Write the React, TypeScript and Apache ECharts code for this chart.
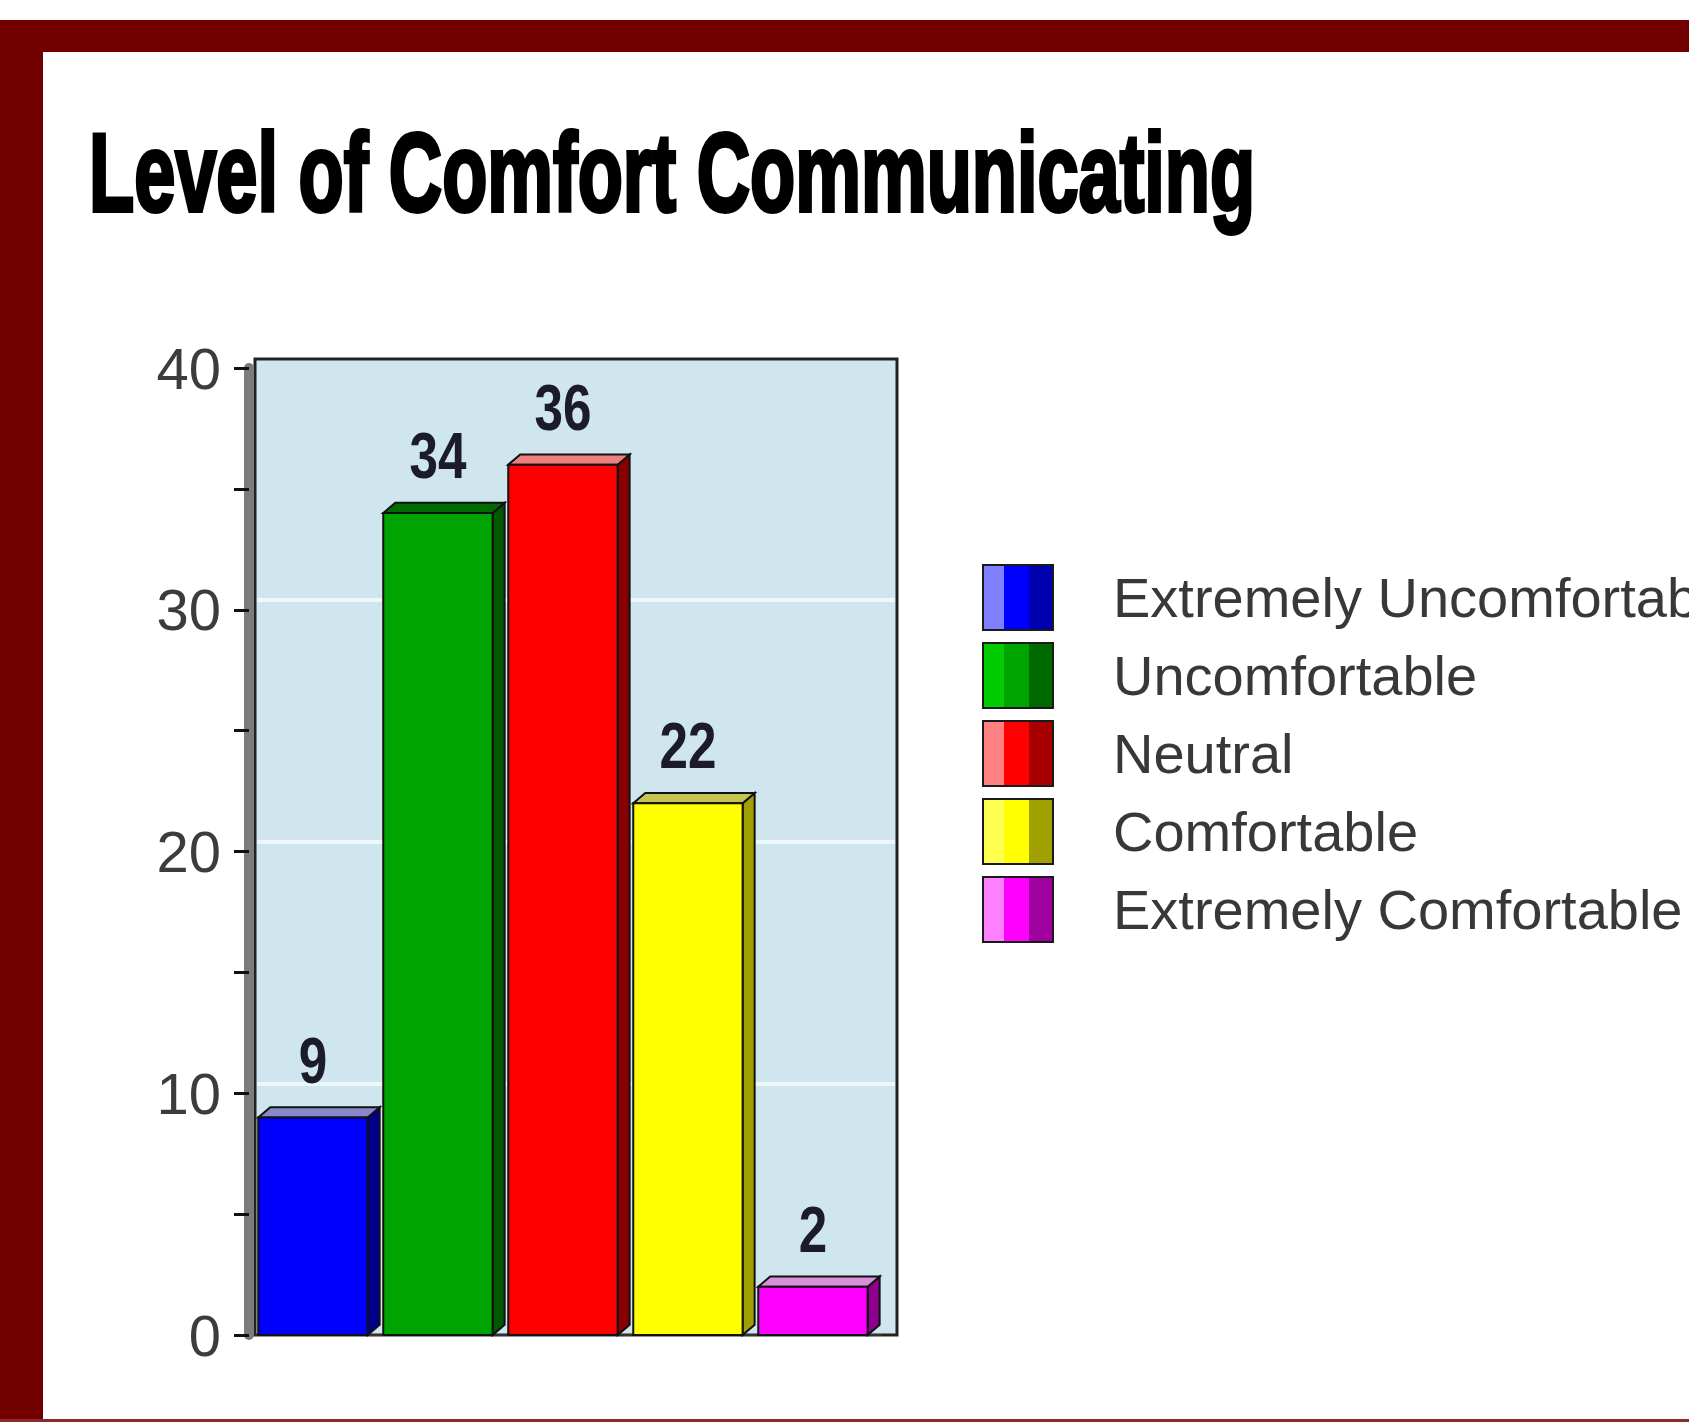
import React, { useEffect, useRef } from "react";
import * as echarts from "echarts";

const titleText = "Level of Comfort Communicating";
const categories = [
  "Extremely Uncomfortable",
  "Uncomfortable",
  "Neutral",
  "Comfortable",
  "Extremely Comfortable",
];
const values = [9, 34, 36, 22, 2];
const frontColors = ["#0000ff", "#00a400", "#ff0000", "#ffff00", "#ff00ff"];
const sideColors = ["#00008c", "#005800", "#880000", "#a0a000", "#8c008c"];
const topColors = ["#8888cc", "#006c00", "#ee8080", "#c4c450", "#d890d8"];
const lightColors = ["#8080ff", "#00cc00", "#ff8080", "#ffff50", "#ff80ff"];
const darkColors = ["#0000b0", "#006a00", "#a80000", "#a0a000", "#a000a0"];
const yMin = 0;
const yMax = 40;
const yTickStep = 5;
const yLabelStep = 10;

const SANS = "'Liberation Sans', Arial, sans-serif";

function legendGradient(i: number) {
  return {
    type: "linear",
    x: 0,
    y: 0,
    x2: 1,
    y2: 0,
    colorStops: [
      { offset: 0, color: lightColors[i] },
      { offset: 0.3, color: lightColors[i] },
      { offset: 0.3, color: frontColors[i] },
      { offset: 0.66, color: frontColors[i] },
      { offset: 0.66, color: darkColors[i] },
      { offset: 1, color: darkColors[i] },
    ],
  };
}

function makeRenderItem(i: number) {
  return (params: any, api: any) => {
    const idx = api.value(0);
    const val = api.value(1);
    const top = api.coord([idx, val]);
    const base = api.coord([idx, 0]);
    const band = api.size([1, 0])[0];
    const x0 = top[0] - band / 2 + band * 0.018;
    const w = band * 0.875;
    const dx = band * 0.096;
    const dy = dx * 0.85;
    const stroke = "#111";
    const lw = 2;
    return {
      type: "group",
      children: [
        {
          type: "polygon",
          shape: {
            points: [
              [x0 + w, top[1]],
              [x0 + w + dx, top[1] - dy],
              [x0 + w + dx, base[1] - dy],
              [x0 + w, base[1]],
            ],
          },
          style: { fill: sideColors[i], stroke, lineWidth: lw },
        },
        {
          type: "polygon",
          shape: {
            points: [
              [x0, top[1]],
              [x0 + dx, top[1] - dy],
              [x0 + w + dx, top[1] - dy],
              [x0 + w, top[1]],
            ],
          },
          style: { fill: topColors[i], stroke, lineWidth: lw },
        },
        {
          type: "rect",
          shape: { x: x0, y: top[1], width: w, height: base[1] - top[1] },
          style: { fill: frontColors[i], stroke, lineWidth: lw },
        },
        {
          type: "text",
          x: x0 + w / 2,
          y: top[1] - 57,
          scaleX: 0.8,
          style: {
            text: String(val),
            align: "center",
            verticalAlign: "middle",
            fontSize: 64,
            fontWeight: "bold",
            fontFamily: SANS,
            fill: "#1c1c28",
          },
        },
      ],
    };
  };
}

export default function App() {
  const ref = useRef<HTMLDivElement>(null);
  useEffect(() => {
    if (!ref.current) return;
    const chart = echarts.init(ref.current, null, { renderer: "svg" });
    const option: any = {
      animation: false,
      backgroundColor: "#ffffff",
      grid: [
        // back box
        {
          left: 255,
          top: 359,
          width: 642,
          height: 976,
          show: true,
          backgroundColor: "#cfe6ef",
          borderColor: "#222",
          borderWidth: 3,
        },
        // back wall gridlines
        { left: 257, top: 358, width: 638, height: 967 },
        // front plane
        { left: 256, top: 368, width: 625, height: 967 },
      ],
      xAxis: [
        { gridIndex: 0, type: "value", show: false, min: 0, max: 1 },
        { gridIndex: 1, type: "value", show: false, min: 0, max: 1 },
        {
          gridIndex: 2,
          type: "category",
          data: categories,
          axisLabel: { show: false },
          axisTick: { show: false },
          axisLine: { show: true, lineStyle: { color: "#333", width: 2 } },
        },
      ],
      yAxis: [
        { gridIndex: 0, type: "value", show: false, min: 0, max: 1 },
        {
          gridIndex: 1,
          type: "value",
          min: yMin,
          max: yMax,
          interval: yLabelStep,
          axisLine: { show: false },
          axisTick: { show: false },
          axisLabel: { show: false },
          splitLine: {
            show: true,
            lineStyle: {
              width: 4,
              color: [
                "rgba(0,0,0,0)",
                "#eef8fb",
                "#eef8fb",
                "#eef8fb",
                "rgba(0,0,0,0)",
              ],
            },
          },
        },
        {
          gridIndex: 2,
          type: "value",
          min: yMin,
          max: yMax,
          interval: yTickStep,
          offset: 7,
          axisLine: { show: true, lineStyle: { color: "#7c7c7c", width: 10 } },
          axisTick: {
            show: true,
            length: 15,
            lineStyle: { color: "#111", width: 3 },
          },
          axisLabel: {
            show: true,
            margin: 28,
            fontSize: 58,
            fontFamily: SANS,
            color: "#3c3c3c",
            formatter: (v: number) => (v % yLabelStep === 0 ? String(v) : ""),
          },
          splitLine: { show: false },
        },
      ],
      legend: {
        orient: "vertical",
        left: 977,
        top: 559,
        itemWidth: 70,
        itemHeight: 65,
        itemGap: 11,
        icon: "rect",
        selectedMode: false,
        data: categories.map((c, i) => ({
          name: c,
          itemStyle: {
            color: legendGradient(i),
            borderColor: "#1a1a1a",
            borderWidth: 2,
          },
        })),
        formatter: (n: string) => `{t|${n}}`,
        textStyle: {
          rich: {
            t: {
              fontSize: 56,
              fontFamily: SANS,
              color: "#383838",
              padding: [0, 0, 0, 55],
            },
          },
        },
      },
      series: categories.map((c, i) => ({
        type: "custom",
        name: c,
        xAxisIndex: 2,
        yAxisIndex: 2,
        itemStyle: { color: frontColors[i] },
        data: [[i, values[i]]],
        renderItem: makeRenderItem(i),
        z: 5,
      })),
      graphic: [
        {
          type: "rect",
          shape: { x: 0, y: 20, width: 1689, height: 32 },
          style: { fill: "#720000" },
          z: 100,
        },
        {
          type: "rect",
          shape: { x: 0, y: 20, width: 43, height: 1402 },
          style: { fill: "#720000" },
          z: 100,
        },
        {
          type: "rect",
          shape: { x: 0, y: 1419, width: 1689, height: 3 },
          style: { fill: "#8a2a2a" },
          z: 100,
        },
        {
          type: "text",
          x: 89,
          y: 172,
          scaleX: 0.66,
          style: {
            text: titleText,
            fontSize: 112,
            fontWeight: "bold",
            fontFamily: SANS,
            fill: "#000",
            stroke: "#000",
            lineWidth: 4,
            align: "left",
            verticalAlign: "middle",
          },
          z: 100,
        },
      ],
    };
    chart.setOption(option);
    return () => chart.dispose();
  }, []);
  return (
    <div
      ref={ref}
      style={{
        position: "absolute",
        left: 0,
        top: 0,
        width: 1689,
        height: 1422,
        background: "#fff",
      }}
    />
  );
}
